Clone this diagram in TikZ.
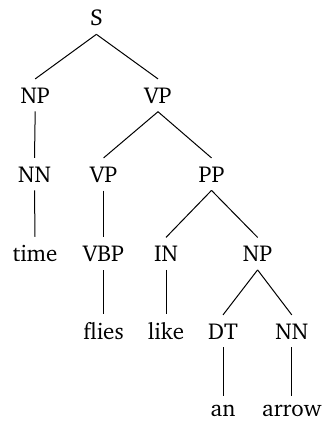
\documentclass[tikz,border=0pt]{standalone}
\usepackage[T1]{fontenc}
\usepackage{charter}
\begin{document}
\begin{tikzpicture}[x=0.5pt,y=-0.5pt,
  lab/.style={anchor=base,inner xsep=0pt,inner ysep=4pt,font=\fontsize{11.5}{14}\selectfont},
  edge/.style={draw=black,line width=0.5pt}]
\useasboundingbox (0,0) rectangle (329,428);
\node[lab] (S) at (96.4,25.6) {S};
\node[lab] (NP1) at (35.2,103) {NP};
\node[lab] (VP1) at (158,103) {VP};
\node[lab] (NN1) at (34.5,182) {NN};
\node[lab] (VP2) at (103.6,182) {VP};
\node[lab] (PP) at (211.5,182) {PP};
\node[lab] (time) at (35,261.5) {time};
\node[lab] (VBP) at (103.6,261.5) {VBP};
\node[lab] (IN) at (166,261.5) {IN};
\node[lab] (NP2) at (257.6,261.5) {NP};
\node[lab] (flies) at (103.6,339) {flies};
\node[lab] (like) at (166,339) {like};
\node[lab] (DT) at (223,339) {DT};
\node[lab] (NN2) at (291.8,339) {NN};
\node[lab] (an) at (223,416) {an};
\node[lab] (arrow) at (291.8,416) {arrow};
\draw[edge] (S.south) -- (NP1.north);
\draw[edge] (S.south) -- (VP1.north);
\draw[edge] (NP1.south) -- (NN1.north);
\draw[edge] (VP1.south) -- (VP2.north);
\draw[edge] (VP1.south) -- (PP.north);
\draw[edge] (NN1.south) -- (time.north);
\draw[edge] (VP2.south) -- (VBP.north);
\draw[edge] (PP.south) -- (IN.north);
\draw[edge] (PP.south) -- (NP2.north);
\draw[edge] (VBP.south) -- (flies.north);
\draw[edge] (IN.south) -- (like.north);
\draw[edge] (NP2.south) -- (DT.north);
\draw[edge] (NP2.south) -- (NN2.north);
\draw[edge] (DT.south) -- (an.north);
\draw[edge] (NN2.south) -- (arrow.north);
\end{tikzpicture}
\end{document}
